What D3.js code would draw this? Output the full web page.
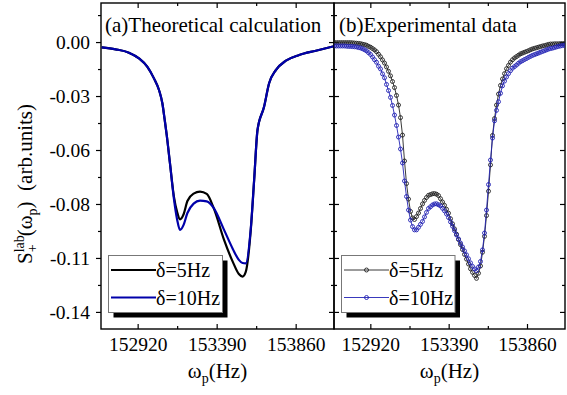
<!DOCTYPE html>
<html>
<head>
<meta charset="utf-8">
<script src="https://cdn.jsdelivr.net/npm/d3@7"></script>
<style>
  body { margin: 0; background: #fff; }
  text { font-family: "Liberation Serif", "Times New Roman", serif; }
</style>
</head>
<body>
<div id="chart"></div>
<script>
// ---- data ----
var xTicks = [152920, 153390, 153860];
var xMinor = [153155, 153625];
var yTicks = [0, -0.0275, -0.055, -0.0825, -0.11, -0.1375];
var yLabels = ["0.00", "-0.03", "-0.06", "-0.08", "-0.11", "-0.14"];
var yMinor = [0.01375, -0.01375, -0.04125, -0.06875, -0.09625, -0.12375];

var seriesNames = ["\u03b4=5Hz", "\u03b4=10Hz"];

// (a) theoretical calculation
var freqTheory = [152706, 152789, 152868, 152928, 152978, 153017, 153047, 153067, 153081, 153093,
  153112, 153136, 153155, 153172, 153194, 153216, 153253, 153291, 153331, 153372,
  153434, 153486, 153522, 153544, 153563, 153593, 153613, 153633, 153672, 153702,
  153742, 153802, 153881, 153980, 154093];
var theory5 = [-0.0027, -0.0037, -0.0054, -0.0083, -0.0126, -0.0185, -0.0244, -0.0312, -0.0397, -0.0474,
  -0.0616, -0.0789, -0.0866, -0.0903, -0.0876, -0.0810, -0.0772, -0.0762, -0.0774, -0.0845,
  -0.1008, -0.1120, -0.1182, -0.1195, -0.1171, -0.0957, -0.0703, -0.0448, -0.0330, -0.0210,
  -0.0143, -0.0095, -0.0066, -0.0044, -0.0020];
var theory10 = [-0.0027, -0.0037, -0.0054, -0.0083, -0.0126, -0.0185, -0.0244, -0.0312, -0.0397, -0.0474,
  -0.0616, -0.0800, -0.0905, -0.0957, -0.0930, -0.0871, -0.0823, -0.0808, -0.0812, -0.0845,
  -0.0957, -0.1054, -0.1110, -0.1126, -0.1128, -0.0950, -0.0703, -0.0448, -0.0330, -0.0210,
  -0.0143, -0.0095, -0.0066, -0.0044, -0.0020];

// (b) experimental data
var freqExp = [152705, 152717, 152729, 152741, 152753, 152765, 152777, 152789, 152801, 152813,
  152825, 152837, 152849, 152861, 152873, 152885, 152897, 152909, 152921, 152933,
  152945, 152957, 152969, 152981, 152993, 153005, 153017, 153029, 153041, 153053,
  153065, 153077, 153089, 153101, 153113, 153125, 153137, 153149, 153161, 153173,
  153185, 153197, 153209, 153221, 153233, 153245, 153257, 153269, 153281, 153293,
  153305, 153317, 153329, 153341, 153353, 153365, 153377, 153389, 153401, 153413,
  153425, 153437, 153449, 153461, 153473, 153485, 153497, 153509, 153521, 153533,
  153545, 153557, 153569, 153581, 153593, 153605, 153617, 153629, 153641, 153653,
  153665, 153677, 153689, 153701, 153713, 153725, 153737, 153749, 153761, 153773,
  153785, 153797, 153809, 153821, 153833, 153845, 153857, 153869, 153881, 153893,
  153905, 153917, 153929, 153941, 153953, 153965, 153977, 153989, 154001, 154013,
  154025, 154037, 154049, 154061, 154073, 154085];
var exp5 = [-0.0003, -0.0003, -0.0003, -0.0003, -0.0003, -0.0003, -0.0003, -0.0003, -0.0003, -0.0004,
  -0.0005, -0.0006, -0.0007, -0.0008, -0.0011, -0.0013, -0.0016, -0.0022, -0.0026, -0.0033,
  -0.0040, -0.0049, -0.0062, -0.0075, -0.0091, -0.0107, -0.0127, -0.0149, -0.0172, -0.0201,
  -0.0232, -0.0272, -0.0321, -0.0385, -0.0474, -0.0606, -0.0721, -0.0800, -0.0863, -0.0896,
  -0.0904, -0.0889, -0.0871, -0.0848, -0.0825, -0.0807, -0.0792, -0.0781, -0.0777, -0.0773,
  -0.0772, -0.0775, -0.0782, -0.0798, -0.0815, -0.0832, -0.0852, -0.0872, -0.0900, -0.0926,
  -0.0952, -0.0979, -0.1006, -0.1032, -0.1057, -0.1082, -0.1106, -0.1131, -0.1155, -0.1173,
  -0.1189, -0.1204, -0.1178, -0.1141, -0.1071, -0.0990, -0.0884, -0.0760, -0.0626, -0.0476,
  -0.0390, -0.0321, -0.0265, -0.0221, -0.0188, -0.0161, -0.0136, -0.0119, -0.0102, -0.0090,
  -0.0081, -0.0074, -0.0067, -0.0060, -0.0056, -0.0052, -0.0048, -0.0044, -0.0039, -0.0035,
  -0.0032, -0.0029, -0.0026, -0.0023, -0.0020, -0.0018, -0.0015, -0.0012, -0.0010, -0.0010,
  -0.0009, -0.0009, -0.0009, -0.0008, -0.0008, -0.0008];
var exp10 = [-0.0020, -0.0020, -0.0020, -0.0020, -0.0020, -0.0020, -0.0021, -0.0022, -0.0022, -0.0023,
  -0.0024, -0.0025, -0.0028, -0.0030, -0.0034, -0.0039, -0.0045, -0.0054, -0.0063, -0.0076,
  -0.0090, -0.0103, -0.0123, -0.0137, -0.0162, -0.0182, -0.0216, -0.0247, -0.0282, -0.0323,
  -0.0372, -0.0425, -0.0484, -0.0545, -0.0616, -0.0708, -0.0787, -0.0856, -0.0907, -0.0940,
  -0.0957, -0.0957, -0.0944, -0.0929, -0.0914, -0.0891, -0.0868, -0.0848, -0.0839, -0.0830,
  -0.0825, -0.0824, -0.0829, -0.0835, -0.0847, -0.0860, -0.0876, -0.0894, -0.0916, -0.0938,
  -0.0961, -0.0983, -0.1003, -0.1024, -0.1044, -0.1064, -0.1084, -0.1104, -0.1125, -0.1143,
  -0.1156, -0.1165, -0.1146, -0.1118, -0.1059, -0.0973, -0.0856, -0.0726, -0.0601, -0.0489,
  -0.0401, -0.0348, -0.0304, -0.0261, -0.0223, -0.0199, -0.0178, -0.0161, -0.0146, -0.0133,
  -0.0125, -0.0117, -0.0108, -0.0100, -0.0095, -0.0089, -0.0084, -0.0078, -0.0073, -0.0068,
  -0.0064, -0.0060, -0.0056, -0.0052, -0.0048, -0.0044, -0.0040, -0.0036, -0.0033, -0.0031,
  -0.0028, -0.0025, -0.0022, -0.0020, -0.0018, -0.0016];

var xDomain = [152702, 154088];
var yDomain = [-0.1462, 0.0199];

// ---- layout ----
var W = 567, H = 395;
var plotTop = 3, plotBottom = 329;
var theoryColors = ["#000000", "#0000aa"];
var expColors = ["#222222", "#2222b4"];

var svg = d3.select("#chart").append("svg")
  .attr("width", W).attr("height", H)
  .style("background", "#fff");

var y = d3.scaleLinear().domain(yDomain).range([plotBottom, plotTop]);

function styleAxis(g, size) {
  g.attr("font-family", null).attr("font-size", size);
  g.select(".domain").remove();
  g.selectAll("line").attr("stroke", "#000").attr("stroke-width", 1.2);
  g.selectAll("text").attr("fill", "#000");
}

function drawPanel(x0, x1, id, showYLabels) {
  var x = d3.scaleLinear().domain(xDomain).range([x0, x1]);
  var g = svg.append("g");

  g.append("clipPath").attr("id", id)
    .append("rect").attr("x", x0).attr("y", plotTop)
    .attr("width", x1 - x0).attr("height", plotBottom - plotTop);

  // bottom axis, ticks pointing inward
  g.append("g").attr("transform", "translate(0," + plotBottom + ")")
    .call(d3.axisBottom(x).tickValues(xTicks).tickSizeInner(-5).tickSizeOuter(0)
      .tickPadding(8).tickFormat(d3.format("d")))
    .call(styleAxis, 19.5);
  g.append("g").attr("transform", "translate(0," + plotBottom + ")")
    .call(d3.axisBottom(x).tickValues(xMinor).tickSize(-3).tickFormat(""))
    .call(styleAxis, 10);
  // top
  g.append("g").attr("transform", "translate(0," + plotTop + ")")
    .call(d3.axisTop(x).tickValues(xTicks).tickSize(-5).tickFormat(""))
    .call(styleAxis, 10);
  g.append("g").attr("transform", "translate(0," + plotTop + ")")
    .call(d3.axisTop(x).tickValues(xMinor).tickSize(-3).tickFormat(""))
    .call(styleAxis, 10);

  // left side
  if (showYLabels) {
    g.append("g").attr("transform", "translate(" + x0 + ",0)")
      .call(d3.axisLeft(y).tickValues(yTicks).tickSize(5).tickPadding(6)
        .tickFormat(function(d, i) { return yLabels[i]; }))
      .call(styleAxis, 19.5);
    g.append("g").attr("transform", "translate(" + x0 + ",0)")
      .call(d3.axisLeft(y).tickValues(yMinor).tickSize(3).tickFormat(""))
      .call(styleAxis, 10);
  } else {
    g.append("g").attr("transform", "translate(" + x0 + ",0)")
      .call(d3.axisLeft(y).tickValues(yTicks).tickSize(-5).tickFormat(""))
      .call(styleAxis, 10);
    g.append("g").attr("transform", "translate(" + x0 + ",0)")
      .call(d3.axisLeft(y).tickValues(yMinor).tickSize(-3).tickFormat(""))
      .call(styleAxis, 10);
  }
  // right side
  g.append("g").attr("transform", "translate(" + x1 + ",0)")
    .call(d3.axisRight(y).tickValues(yTicks).tickSize(-5).tickFormat(""))
    .call(styleAxis, 10);
  g.append("g").attr("transform", "translate(" + x1 + ",0)")
    .call(d3.axisRight(y).tickValues(yMinor).tickSize(-3).tickFormat(""))
    .call(styleAxis, 10);

  // frame
  g.append("rect")
    .attr("x", x0).attr("y", plotTop).attr("width", x1 - x0).attr("height", plotBottom - plotTop)
    .attr("fill", "none").attr("stroke", "#000").attr("stroke-width", 1.4);

  // x label  ω_p(Hz)
  var xl = g.append("text")
    .attr("x", (x0 + x1) / 2).attr("y", 378)
    .attr("text-anchor", "middle").attr("font-size", 21);
  xl.append("tspan").text("\u03c9");
  xl.append("tspan").attr("font-size", 14).attr("dy", 5).text("p");
  xl.append("tspan").attr("dy", -5).text("(Hz)");

  return { x: x, g: g, plot: g.append("g").attr("clip-path", "url(#" + id + ")") };
}

var left = drawPanel(101, 334, "clipA", true);
var right = drawPanel(334, 565, "clipB", false);

// ---- (a) theoretical lines ----
var theoryRows = [theory5, theory10].map(function(vals) {
  return freqTheory.map(function(f, i) { return [f, vals[i]]; });
});
var lineA = d3.line()
  .x(function(d) { return left.x(d[0]); })
  .y(function(d) { return y(d[1]); })
  .curve(d3.curveMonotoneX);
left.plot.selectAll(".theory")
  .data(theoryRows)
  .join("path")
  .attr("class", "theory")
  .attr("d", lineA)
  .attr("fill", "none")
  .attr("stroke", function(d, i) { return theoryColors[i]; })
  .attr("stroke-width", 2.2);

// ---- (b) experimental points ----
var expRows = [exp5, exp10].map(function(vals) {
  return freqExp.map(function(f, i) { return [f, vals[i]]; });
});
var lineB = d3.line()
  .x(function(d) { return right.x(d[0]); })
  .y(function(d) { return y(d[1]); });
expRows.forEach(function(rows, k) {
  var s = right.plot.append("g");
  s.append("path")
    .attr("d", lineB(rows))
    .attr("fill", "none")
    .attr("stroke", expColors[k])
    .attr("stroke-width", 0.9);
  s.selectAll("circle")
    .data(rows)
    .join("circle")
    .attr("cx", function(d) { return right.x(d[0]); })
    .attr("cy", function(d) { return y(d[1]); })
    .attr("r", 2)
    .attr("fill", "none")
    .attr("stroke", expColors[k])
    .attr("stroke-width", 0.9);
});

// ---- panel titles ----
svg.append("text").attr("x", 105).attr("y", 32).attr("font-size", 21)
  .text("(a)Theoretical calculation");
svg.append("text").attr("x", 339).attr("y", 32).attr("font-size", 21)
  .text("(b)Experimental data");

// ---- y label ----
var yl = svg.append("text")
  .attr("transform", "translate(32,184) rotate(-90)")
  .attr("text-anchor", "middle")
  .attr("font-size", 21);
yl.append("tspan").text("S");
yl.append("tspan").attr("font-size", 14).attr("dy", -8).text("lab");
yl.append("tspan").attr("font-size", 14).attr("dx", -17).attr("dy", 13).text("+");
yl.append("tspan").attr("dx", 8).attr("dy", -5).text("(\u03c9");
yl.append("tspan").attr("font-size", 14).attr("dy", 5).text("p");
yl.append("tspan").attr("dy", -5).text(")\u00a0\u00a0(arb.units)");

// ---- legends ----
function legend(bx, by, bw, bh, colors, markers) {
  var g = svg.append("g");
  g.append("rect").attr("x", bx + 5).attr("y", by + 5).attr("width", bw).attr("height", bh)
    .attr("fill", "#000");
  g.append("rect").attr("x", bx).attr("y", by).attr("width", bw).attr("height", bh)
    .attr("fill", "#fff").attr("stroke", "#777").attr("stroke-width", 1);
  seriesNames.forEach(function(name, i) {
    var ly = by + 14.5 + i * 27.5;
    g.append("line")
      .attr("x1", bx + 2.5).attr("x2", bx + 47.5)
      .attr("y1", ly).attr("y2", ly)
      .attr("stroke", colors[i]).attr("stroke-width", markers ? 0.9 : 2.2);
    if (markers) {
      g.append("circle").attr("cx", bx + 25).attr("cy", ly).attr("r", 2)
        .attr("fill", "none").attr("stroke", colors[i]).attr("stroke-width", 0.9);
    }
    g.append("text").attr("x", bx + 47.5).attr("y", ly + 7.3)
      .attr("font-size", 20).text(name);
  });
}
legend(108.5, 255.5, 114, 57, theoryColors, false);
legend(341.5, 255.5, 113.5, 57, expColors, true);
</script>
</body>
</html>
